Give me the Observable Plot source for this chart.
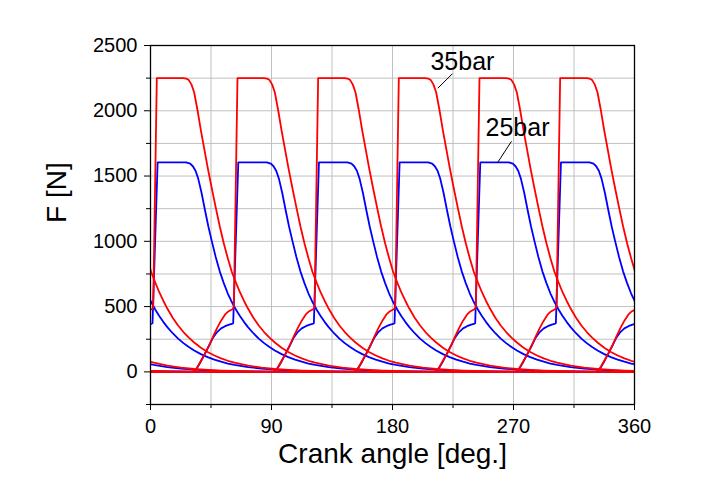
<!DOCTYPE html>
<html>
<head>
<meta charset="utf-8">
<script src="https://cdn.jsdelivr.net/npm/d3@7"></script>
<script src="https://cdn.jsdelivr.net/npm/@observablehq/plot@0.6"></script>
<style>
  html, body { margin: 0; padding: 0; background: #fff; }
  #chart svg { font-family: "Liberation Sans", Arial, sans-serif; background: #fff; }
</style>
</head>
<body>
<div id="chart"></div>
<script>
// Crank angles (deg) at which each of the six pressure pulses starts
const jumpAngles = [2.5, 62.5, 122.5, 182.5, 242.5, 302.5];

// One pulse of the 35bar curve: phase (deg relative to the jump) and force (N)
const redPhase = [-31, -28, -25, -22, -19, -16, -13, -10, -7, -5, -3, -1.5, -0.5, 2.2, 22, 24, 26, 28, 30, 32.5, 35, 37.5, 40, 43, 46, 49, 52, 55, 58, 61, 64, 67, 70, 74, 78, 82, 86, 90, 95, 100, 105, 110, 115, 120, 130, 140, 150, 160, 170, 180, 195, 210, 230, 329];
const redForce = [0, 30, 85, 140, 200, 270, 335, 392, 440, 460, 472, 480, 495, 2250, 2250, 2247, 2235, 2200, 2140, 2002, 1848, 1708, 1567, 1410, 1260, 1115, 985, 870, 765, 685, 610, 545, 485, 415, 355, 305, 262, 225, 185, 152, 125, 103, 85, 70, 48, 32, 22, 15, 10, 7, 4, 2, 0, 0];

// One pulse of the 25bar curve
const bluePhase = [-31, -28, -25, -22, -19, -16, -13, -10, -7, -4, -2, -1, 2.8, 24, 27, 29, 31, 33, 35.5, 38, 40.5, 43, 46, 49, 52, 55, 57.5, 61, 64, 67, 70, 74, 78, 82, 86, 90, 95, 100, 105, 110, 115, 120, 130, 140, 150, 160, 170, 180, 195, 210, 230, 329];
const blueForce = [0, 28, 80, 140, 200, 262, 305, 333, 350, 362, 367, 372, 1605, 1605, 1595, 1575, 1540, 1480, 1370, 1240, 1115, 1005, 880, 770, 680, 600, 545, 478, 428, 383, 343, 296, 255, 220, 190, 164, 136, 113, 94, 78, 64, 53, 37, 25, 17, 12, 8, 5.5, 3, 1.5, 0, 0];

// Axis ticks
const xTicks = [0, 90, 180, 270, 360];
const xMinorTicks = [45, 135, 225, 315];
const xGrid = [45, 90, 135, 180, 225, 270, 315];
const yTicks = [0, 500, 1000, 1500, 2000, 2500];
const yMinorTicks = [-250, 250, 750, 1250, 1750, 2250];
const yGrid = [0, 250, 500, 750, 1000, 1250, 1500, 1750, 2000, 2250];

// Annotations
const labelText = ["35bar", "25bar"];
const labelX = [232, 273];
const labelY = [2370, 1865];
const leaderX1 = [224.5, 268.5];
const leaderY1 = [2283, 1766];
const leaderX2 = [213.7, 258.3];
const leaderY2 = [2173, 1605];

const xTitle = "Crank angle [deg.]";
const yTitle = "F [N]";

// Build one row per point: each pulse repeated one period before/after so that clipping handles the wrap
function buildSeries(phase, force, name) {
  const rows = [];
  for (const J of jumpAngles) {
    for (const c of [-360, 0, 360]) {
      phase.forEach((p, i) => rows.push({x: J + p + c, y: force[i], id: `${name}-${J}-${c}`}));
    }
  }
  return rows;
}
const redRows = buildSeries(redPhase, redForce, "r");
const blueRows = buildSeries(bluePhase, blueForce, "b");
const labels = labelText.map((t, i) => ({text: t, x: labelX[i], y: labelY[i]}));
const leaders = labelText.map((t, i) => ({x1: leaderX1[i], y1: leaderY1[i], x2: leaderX2[i], y2: leaderY2[i]}));

const chart = Plot.plot({
  width: 721,
  height: 495,
  marginLeft: 150,
  marginRight: 87,
  marginTop: 45,
  marginBottom: 91,
  style: {fontFamily: '"Liberation Sans", Arial, sans-serif', color: "black", background: "white"},
  x: {domain: [0, 360]},
  y: {domain: [-250, 2500]},
  marks: [
    Plot.gridX(xGrid, {stroke: "#c0c0c0", strokeOpacity: 1, strokeWidth: 1}),
    Plot.gridY(yGrid, {stroke: "#c0c0c0", strokeOpacity: 1, strokeWidth: 1}),
    Plot.line(blueRows, {x: "x", y: "y", z: "id", stroke: "#0000ff", strokeWidth: 1.8, clip: true}),
    Plot.line(redRows, {x: "x", y: "y", z: "id", stroke: "#ff0000", strokeWidth: 1.8, clip: true}),
    Plot.link(leaders, {x1: "x1", y1: "y1", x2: "x2", y2: "y2", stroke: "black", strokeWidth: 1}),
    Plot.text(labels, {x: "x", y: "y", text: "text", fontSize: 25, fill: "black"}),
    Plot.frame({stroke: "black", strokeWidth: 1.3}),
    Plot.axisX(xTicks, {tickSize: 6, tickPadding: 8, fontSize: 20, tickFormat: "d", label: null}),
    Plot.axisX(xMinorTicks, {tickSize: 4, tickFormat: () => "", label: null}),
    Plot.axisY(yTicks, {tickSize: 6, tickPadding: 7, fontSize: 20, tickFormat: "d", label: null}),
    Plot.axisY(yMinorTicks, {tickSize: 4, tickFormat: () => "", label: null}),
    Plot.text([xTitle], {frameAnchor: "bottom", dy: 58, fontSize: 28, fill: "black"}),
    Plot.text([yTitle], {frameAnchor: "left", dx: -93, dy: -2, rotate: -90, fontSize: 28, fill: "black"})
  ]
});
document.getElementById("chart").appendChild(chart);
</script>
</body>
</html>
